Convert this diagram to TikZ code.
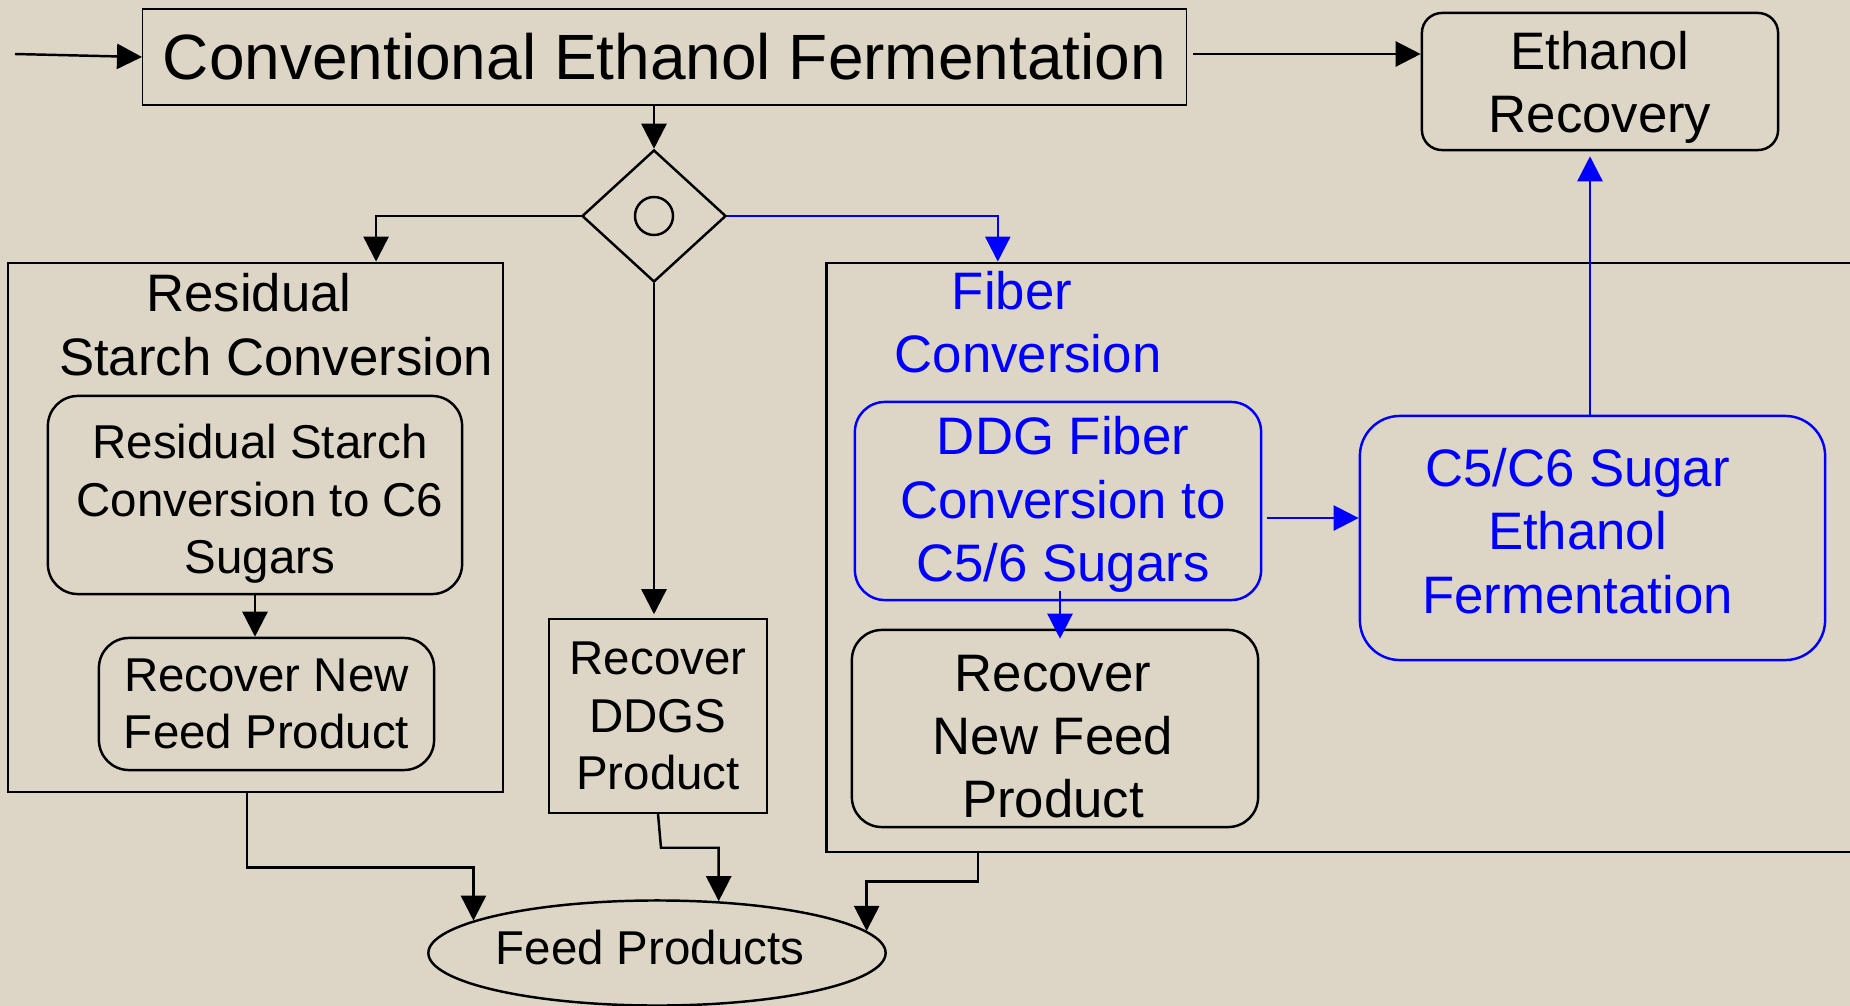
\documentclass[tikz,border=0pt]{standalone}
\usepackage{fontspec}
\setmainfont{Liberation Sans}
\usepackage{tikz}
\usetikzlibrary{arrows.meta}
\usetikzlibrary{positioning,shapes,calc}
\usetikzlibrary{shapes.geometric}

\definecolor{paper}{RGB}{221,214,199}
\definecolor{fiberblue}{RGB}{0,0,255}

\tikzset{
  arr/.style={-{Triangle[length=0.25cm,width=0.25cm]}, line width=0.7pt},
  plainbox/.style={draw, line width=0.4pt, inner sep=0pt, align=center},
  roundbox/.style={draw, line width=0.7pt, rounded corners=0.3cm, inner sep=0pt, align=center},
  groupbox/.style={draw, line width=0.7pt, inner sep=0pt},
  big/.style={font=\fontsize{15}{18}\selectfont},
  small/.style={font=\fontsize{13.5}{16.4}\selectfont},
}

\begin{document}
\begin{tikzpicture}[x=0.01cm, y=-0.01cm]
            \fill[paper] (0,0) rectangle (1850,1006);
            \useasboundingbox (0,0) rectangle (1850,1006);
            % top row
            \coordinate (in) at (15,54);
            \node[plainbox, minimum width=10.43cm, minimum height=0.96cm,
                  font=\fontsize{18.2}{22}\selectfont] (ferm) at (664.5,57) {Conventional Ethanol Fermentation};
            \node[roundbox, rounded corners=0.2cm, minimum width=3.56cm, minimum height=1.37cm,
                  label={[big, align=center, yshift=-0.06cm]center:{Ethanol\\Recovery}}] (recov) at (1600,81.5) {};
            \node[draw, diamond, line width=0.7pt, inner sep=0pt, minimum width=1.44cm, minimum height=1.32cm] (split) at (654,216) {};
            \node[draw, circle, line width=0.7pt, inner sep=0pt, minimum size=0.38cm] (splitc) at (split.center) {};
            % residual starch
            \node[groupbox, minimum width=4.95cm, minimum height=5.29cm] (starch) at (255.5,527.5) {};
            \node[big, align=center] (starchlbl) at (276,324.5) {Residual\kern0.54cm\\Starch Conversion};
            \node[roundbox, minimum width=4.14cm, minimum height=1.98cm,
                  label={[small, align=center, xshift=0.05cm, yshift=-0.09cm]center:{Residual Starch\\Conversion to C6\\Sugars}}] (starchconv) at (255,495) {};
            \node[roundbox, small, minimum width=3.35cm, minimum height=1.32cm] (feedA) at (266.5,704) {Recover New\\Feed Product};
            % ddgs
            \node[plainbox, small, minimum width=2.18cm, minimum height=1.94cm] (ddgs) at (658,716) {Recover\\DDGS\\Product};
            % fiber
            \node[groupbox, minimum width=10.33cm, minimum height=5.89cm] (fiber) at (1343.5,557.5) {};
            \node[big, align=center, text=fiberblue] (fiberlbl) at (1028,322) {Fiber\kern0.32cm\\Conversion};
            \node[roundbox, draw=fiberblue, minimum width=4.06cm, minimum height=1.98cm,
                  label={[big, text=fiberblue, align=center, xshift=0.05cm, yshift=-0.035cm]center:{DDG Fiber\\Conversion to\\C5/6 Sugars}}] (fiberconv) at (1058,501) {};
            \node[roundbox, rounded corners=0.4cm, draw=fiberblue, minimum width=4.65cm, minimum height=2.44cm,
                  label={[big, text=fiberblue, align=center, xshift=-0.15cm, yshift=0.07cm]center:{C5/C6 Sugar\\Ethanol\\Fermentation}}] (sugarferm) at (1592.5,538) {};
            \node[roundbox, minimum width=4.06cm, minimum height=1.97cm,
                  label={[big, align=center, xshift=-0.02cm, yshift=-0.08cm]center:{Recover\\New Feed\\Product}}] (feedB) at (1055,728.5) {};
            % bottom
            \node[draw, ellipse, line width=0.7pt, inner sep=0pt, minimum width=4.57cm, minimum height=1.05cm,
                  label={[small, xshift=-0.07cm, yshift=0.05cm]center:Feed Products}] (feed) at (657,953) {};

            \draw[arr] (in) -- (ferm.west);
            \draw[arr, shorten <=0.06cm] (ferm.east |- in) -- (in -| recov.west);
            \draw[arr] (ferm.south -| split.north) -- (split.north);
            \draw[arr] (split.west) -| ([xshift=1.205cm]starch.north);
            \draw[arr, fiberblue] (split.east) -| ([xshift=-3.455cm]fiber.north);
            \draw[arr, shorten >=0.04cm] (split.south) -- (split.south |- ddgs.north);
            \draw[arr] (starchconv.south) -- (starchconv.south |- feedA.north);
            \draw[arr, fiberblue, shorten <=0.05cm] ([yshift=-0.17cm]fiberconv.east) -- ([yshift=-0.17cm]fiberconv.east -| sugarferm.west);
            \draw[arr, fiberblue, shorten >=0.05cm] (sugarferm.north -| 1590,0) -- (recov.south -| 1590,0);
            \draw[arr, fiberblue, shorten >=-0.1cm] ([xshift=0.02cm,yshift=0.1cm]fiberconv.south) -- ([xshift=0.02cm]fiberconv.south |- feedB.north);
            \draw[arr] ([xshift=-0.085cm]starch.south) -- ++(0,74) -| (feed.170.7);
            \draw[arr] (ddgs.south) -- ++(3,34) -| (feed.40);
            \draw[arr] ([xshift=-3.655cm]fiber.south) -- ++(0,28) -| (feed.6);
    	\end{tikzpicture}
\end{document}
